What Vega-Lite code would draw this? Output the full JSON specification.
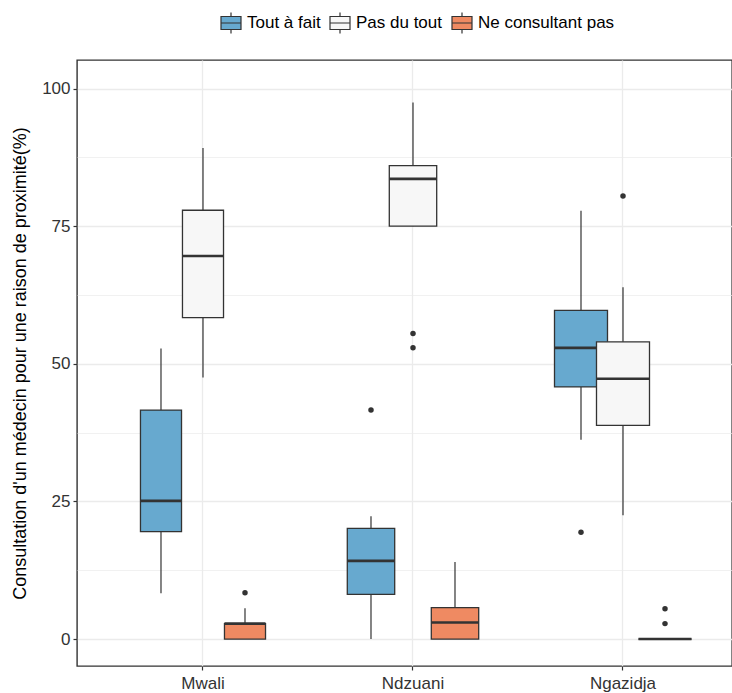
{
  "$schema": "https://vega.github.io/schema/vega-lite/v6.json",
  "width": 655,
  "height": 606,
  "autosize": {"type": "none"},
  "padding": {"left": 77, "top": 60, "right": 0, "bottom": 27},
  "background": "white",
  "config": {
    "font": "Liberation Sans",
    "view": {"stroke": "#333333", "strokeWidth": 1.4},
    "axis": {
      "labelFont": "Liberation Sans",
      "labelFontSize": 17,
      "labelColor": "#333333",
      "tickColor": "#333333",
      "tickSize": 4,
      "tickWidth": 1.2,
      "domain": false,
      "gridColor": "#EBEBEB",
      "gridWidth": 1.3,
      "titleFont": "Liberation Sans",
      "titleFontSize": 18,
      "titleFontWeight": "normal",
      "titleColor": "#000000",
      "labelPadding": 3
    },
    "legend": {
      "labelFont": "Liberation Sans",
      "labelFontSize": 17,
      "labelColor": "#000000"
    }
  },
  "datasets": {
    "boxes": [
      {"region": "Mwali", "group": "Tout à fait", "n": 12, "lower": 8.3, "q1": 19.5, "median": 25.1, "q3": 41.6, "upper": 52.8},
      {"region": "Mwali", "group": "Pas du tout", "n": 12, "lower": 47.5, "q1": 58.4, "median": 69.6, "q3": 77.9, "upper": 89.2},
      {"region": "Mwali", "group": "Ne consultant pas", "n": 12, "lower": 0, "q1": 0, "median": 2.8, "q3": 2.8, "upper": 5.6},
      {"region": "Ndzuani", "group": "Tout à fait", "n": 16, "lower": 0, "q1": 8.1, "median": 14.2, "q3": 20.1, "upper": 22.3},
      {"region": "Ndzuani", "group": "Pas du tout", "n": 16, "lower": 75.0, "q1": 75.0, "median": 83.6, "q3": 86.0, "upper": 97.5},
      {"region": "Ndzuani", "group": "Ne consultant pas", "n": 16, "lower": 0, "q1": 0, "median": 3.0, "q3": 5.7, "upper": 14.0},
      {"region": "Ngazidja", "group": "Tout à fait", "n": 20, "lower": 36.2, "q1": 45.8, "median": 52.9, "q3": 59.7, "upper": 77.8},
      {"region": "Ngazidja", "group": "Pas du tout", "n": 20, "lower": 22.5, "q1": 38.8, "median": 47.3, "q3": 54.0, "upper": 63.9},
      {"region": "Ngazidja", "group": "Ne consultant pas", "n": 20, "lower": 0, "q1": 0, "median": 0, "q3": 0, "upper": 0}
    ],
    "outliers": [
      {"region": "Mwali", "group": "Ne consultant pas", "value": 8.4},
      {"region": "Ndzuani", "group": "Pas du tout", "value": 55.5},
      {"region": "Ndzuani", "group": "Pas du tout", "value": 52.9},
      {"region": "Ndzuani", "group": "Tout à fait", "value": 41.6},
      {"region": "Ngazidja", "group": "Tout à fait", "value": 19.4},
      {"region": "Ngazidja", "group": "Pas du tout", "value": 80.5},
      {"region": "Ngazidja", "group": "Ne consultant pas", "value": 5.5},
      {"region": "Ngazidja", "group": "Ne consultant pas", "value": 2.8}
    ]
  },
  "encoding": {
    "x": {
      "field": "region",
      "type": "nominal",
      "title": null,
      "scale": {"domain": ["Mwali", "Ndzuani", "Ngazidja"], "paddingInner": 0, "paddingOuter": 0.0595, "align": 0.84},
      "axis": {"labelAngle": 0, "bandPosition": 0.5, "grid": true, "labelPadding": 5}
    },
    "xOffset": {
      "field": "group",
      "type": "nominal",
      "scale": {"domain": ["Tout à fait", "Pas du tout", "Ne consultant pas"], "paddingInner": 0, "paddingOuter": 1.061}
    }
  },
  "layer": [
    {
      "data": {"name": "boxes"},
      "transform": [{"filter": "datum.group === 'Tout à fait'"}],
      "layer": [
        {
          "mark": {"type": "rule", "color": "#333333", "strokeWidth": 1.2},
          "encoding": {
            "y": {
              "field": "lower", "type": "quantitative",
              "title": "Consultation d'un médecin pour une raison de proximité(%)",
              "scale": {"domain": [-4.9, 105.2], "nice": false, "zero": false},
              "axis": {
                "values": [0, 12.5, 25, 37.5, 50, 62.5, 75, 87.5, 100],
                "labelExpr": "datum.value % 25 === 0 ? datum.label : ''",
                "tickOpacity": {"condition": {"test": "datum.value % 25 !== 0", "value": 0}, "value": 1},
                "gridWidth": {"condition": {"test": "datum.value % 25 !== 0", "value": 0.7}, "value": 1.3},
                "titlePadding": 12
              }
            },
            "y2": {"field": "upper"}
          }
        },
        {
          "mark": {"type": "bar", "stroke": "#333333", "strokeWidth": 1.3},
          "encoding": {
            "y": {"field": "q1", "type": "quantitative", "title": "Consultation d'un médecin pour une raison de proximité(%)"},
            "y2": {"field": "q3"},
            "fill": {
              "field": "group", "type": "nominal",
              "scale": {"domain": ["Tout à fait", "Pas du tout", "Ne consultant pas"], "range": ["#67A9CF", "#F7F7F7", "#EF8A62"]},
              "legend": {
                "title": null,
                "orient": "none",
                "direction": "horizontal",
                "legendX": 143,
                "legendY": -48,
                "symbolType": "M-1,-0.65H1V0.65H-1Z M-1,0H1 M0,-0.65V-1.05 M0,0.65V1.05",
                "symbolSize": 400,
                "symbolStrokeColor": "#333333",
                "symbolStrokeWidth": 1.2,
                "symbolOpacity": 1,
                "labelOffset": 5,
                "columnPadding": 6,
                "gridAlign": "none"
              }
            },
            "size": {"field": "n", "type": "quantitative", "scale": {"type": "sqrt", "domain": [0, 20], "range": [0, 53]}, "legend": null}
          }
        },
        {
          "mark": {"type": "tick", "color": "#333333", "thickness": 2.6, "opacity": 1},
          "encoding": {
            "y": {"field": "median", "type": "quantitative", "title": "Consultation d'un médecin pour une raison de proximité(%)"},
            "size": {"field": "n", "type": "quantitative", "scale": {"type": "sqrt", "domain": [0, 20], "range": [0, 53]}, "legend": null}
          }
        }
      ]
    },
    {
      "data": {"name": "boxes"},
      "transform": [{"filter": "datum.group === 'Pas du tout'"}],
      "layer": [
        {
          "mark": {"type": "rule", "color": "#333333", "strokeWidth": 1.2},
          "encoding": {
            "y": {"field": "lower", "type": "quantitative", "title": "Consultation d'un médecin pour une raison de proximité(%)"},
            "y2": {"field": "upper"}
          }
        },
        {
          "mark": {"type": "bar", "stroke": "#333333", "strokeWidth": 1.3},
          "encoding": {
            "y": {"field": "q1", "type": "quantitative", "title": "Consultation d'un médecin pour une raison de proximité(%)"},
            "y2": {"field": "q3"},
            "fill": {"field": "group", "type": "nominal"},
            "size": {"field": "n", "type": "quantitative", "legend": null}
          }
        },
        {
          "mark": {"type": "tick", "color": "#333333", "thickness": 2.6, "opacity": 1},
          "encoding": {
            "y": {"field": "median", "type": "quantitative", "title": "Consultation d'un médecin pour une raison de proximité(%)"},
            "size": {"field": "n", "type": "quantitative", "legend": null}
          }
        }
      ]
    },
    {
      "data": {"name": "boxes"},
      "transform": [{"filter": "datum.group === 'Ne consultant pas'"}],
      "layer": [
        {
          "mark": {"type": "rule", "color": "#333333", "strokeWidth": 1.2},
          "encoding": {
            "y": {"field": "lower", "type": "quantitative", "title": "Consultation d'un médecin pour une raison de proximité(%)"},
            "y2": {"field": "upper"}
          }
        },
        {
          "mark": {"type": "bar", "stroke": "#333333", "strokeWidth": 1.3},
          "encoding": {
            "y": {"field": "q1", "type": "quantitative", "title": "Consultation d'un médecin pour une raison de proximité(%)"},
            "y2": {"field": "q3"},
            "fill": {"field": "group", "type": "nominal"},
            "size": {"field": "n", "type": "quantitative", "legend": null}
          }
        },
        {
          "mark": {"type": "tick", "color": "#333333", "thickness": 2.6, "opacity": 1},
          "encoding": {
            "y": {"field": "median", "type": "quantitative", "title": "Consultation d'un médecin pour une raison de proximité(%)"},
            "size": {"field": "n", "type": "quantitative", "legend": null}
          }
        }
      ]
    },
    {
      "data": {"name": "outliers"},
      "mark": {"type": "point", "filled": true, "color": "#333333", "size": 30, "opacity": 1},
      "encoding": {
        "y": {"field": "value", "type": "quantitative", "title": "Consultation d'un médecin pour une raison de proximité(%)"}
      }
    }
  ]
}
